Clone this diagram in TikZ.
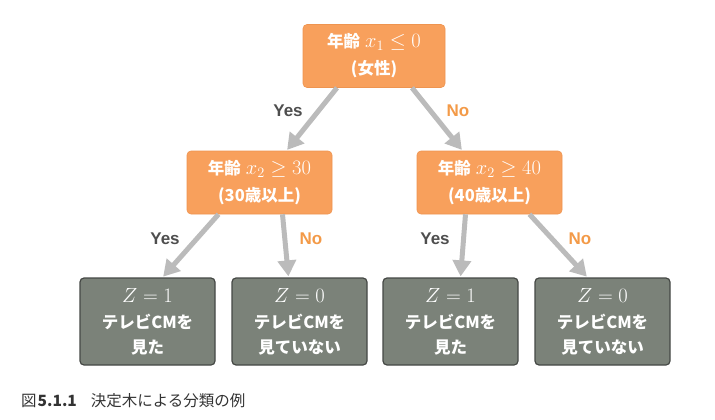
\documentclass[tikz,border=0pt]{standalone}
\usepackage{fix-cm}
\usepackage{fontspec}
\newfontfamily\jpfont{Noto Sans CJK JP}
\newfontfamily\enfont{Liberation Sans}
\usetikzlibrary{arrows.meta,calc}

\definecolor{condfill}{HTML}{F8A05C}
\definecolor{condedge}{HTML}{EE9450}
\definecolor{leaffill}{HTML}{7B8279}
\definecolor{leafedge}{HTML}{454845}
\definecolor{arrowgray}{HTML}{BBBBBB}
\definecolor{yesgray}{HTML}{4E4E4E}
\definecolor{noorange}{HTML}{F39A48}
\definecolor{capgray}{HTML}{333333}

\newcommand{\mth}[1]{{\fontsize{20.5}{20.5}\selectfont$#1$}}

\begin{document}
\begin{tikzpicture}[
  x=1pt,y=-1pt,
  >={Triangle[length=16pt,width=18pt]},
  cond/.style={fill=condfill,draw=condedge,line width=0.6pt,rounded corners=4pt,
    minimum width=142pt,minimum height=63pt,inner sep=0pt,align=center,text=white,
    font=\jpfont\bfseries\fontsize{16.5}{27}\selectfont},
  leaf/.style={fill=leaffill,draw=leafedge,line width=1.2pt,rounded corners=4pt,
    minimum width=135pt,minimum height=87pt,inner sep=0pt,align=center,text=white,
    font=\jpfont\bfseries\fontsize{16.5}{24.5}\selectfont},
  edge/.style={draw=arrowgray,line width=5pt,->,shorten >=1pt},
  yes/.style={font=\enfont\bfseries\fontsize{17}{17}\selectfont,text=yesgray},
  no/.style={font=\enfont\bfseries\fontsize{17}{17}\selectfont,text=noorange}
]
\useasboundingbox (0,0) rectangle (715,420);

% condition boxes
\node[cond] (root) at (374,56) {年齢\hspace{5pt}\mth{x_1 \leq 0}\\(女性)};
\node[cond,minimum width=145pt] (age30) at (259.5,182.5) {年齢\hspace{5pt}\mth{x_2 \geq 30}\\(30歳以上)};
\node[cond,minimum width=145pt] (age40) at (489.5,182.5) {年齢\hspace{5pt}\mth{x_2 \geq 40}\\(40歳以上)};

% leaves
\node[leaf] (seenA)   at (147.5,321.5) {\mth{Z=1}\\[2pt]テレビCMを\\見た};
\node[leaf] (unseenA) at (299.5,321.5) {\mth{Z=0}\\[2pt]テレビCMを\\見ていない};
\node[leaf] (seenB)   at (450.5,321.5) {\mth{Z=1}\\[2pt]テレビCMを\\見た};
\node[leaf] (unseenB) at (602.5,321.5) {\mth{Z=0}\\[2pt]テレビCMを\\見ていない};

% branches
\draw[edge] ([xshift=-37pt]root.south) -- ([xshift=27pt]age30.north);
\draw[edge] ([xshift=38pt]root.south) -- ([xshift=-27pt]age40.north);
\draw[edge] ([xshift=-41pt]age30.south) -- ([xshift=15pt]seenA.north);
\draw[edge] ([xshift=23pt]age30.south) -- ([xshift=-11pt]unseenA.north);
\draw[edge] ([xshift=-24pt]age40.south) -- ([xshift=10pt]seenB.north);
\draw[edge] ([xshift=40pt]age40.south) -- ([xshift=-15pt]unseenB.north);

% branch labels
\node[yes] (yes1) at (288,111) {Yes};
\node[no]  (no1)  at (458,111) {No};
\node[yes] (yes2) at (165,239) {Yes};
\node[no]  (no2)  at (311,239) {No};
\node[yes] (yes3) at (435,239) {Yes};
\node[no]  (no3)  at (580,239) {No};

% caption
\node[anchor=west,text=capgray,font=\jpfont\fontsize{15.5}{15.5}\selectfont,inner sep=0pt]
  (caption) at (21,401) {図\hspace{1pt}{\bfseries 5.1.1}\hspace{14pt}決定木による分類の例};
\end{tikzpicture}
\end{document}
